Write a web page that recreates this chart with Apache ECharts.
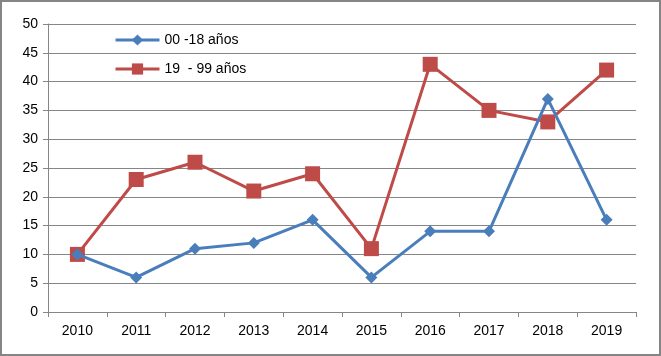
<!DOCTYPE html>
<html><head><meta charset="utf-8">
<script src="https://cdn.jsdelivr.net/npm/echarts@6/dist/echarts.min.js"></script>
<style>html,body{margin:0;padding:0;background:#fff}#c{width:661px;height:356px;box-sizing:border-box;border:2px solid #858585}</style>
</head><body><div id="c"></div>
<script>
const categories = ['2010','2011','2012','2013','2014','2015','2016','2017','2018','2019'];
const series1Name = '00 -18 años';
const series1 = [10, 6, 11, 12, 16, 6, 14, 14, 37, 16];
const series2Name = '19  - 99 años';
const series2 = [10, 23, 26, 21, 24, 11, 43, 35, 33, 42];

const chart = echarts.init(document.getElementById('c'), null, {renderer:'canvas'});
const font = 'Liberation Sans, Arial, sans-serif';
chart.setOption({
  animation:false,
  grid:{left:46, right:23, top:22, bottom:42},
  legend:{
    orient:'vertical', left:107, top:26, itemGap:15, itemWidth:44, itemHeight:14,
    textStyle:{fontFamily:font, fontSize:14, color:'#000'},
    data:[
      {name:series1Name, lineStyle:{width:3}},
      {name:series2Name, lineStyle:{width:3}}
    ]
  },
  xAxis:{
    type:'category', data:categories, boundaryGap:true,
    axisLine:{lineStyle:{color:'#868686', width:1}},
    axisTick:{show:true, length:5, lineStyle:{color:'#868686'}},
    axisLabel:{fontFamily:font, fontSize:14, color:'#000', margin:12}
  },
  yAxis:{
    type:'value', min:0, max:50, interval:5,
    axisLine:{show:true, lineStyle:{color:'#868686'}},
    axisTick:{show:true, length:5, lineStyle:{color:'#868686'}},
    splitLine:{lineStyle:{color:'#868686', width:1}},
    axisLabel:{fontFamily:font, fontSize:14, color:'#000', margin:10}
  },
  series:[
    {name:series1Name, type:'line', data:series1, symbol:'diamond', symbolSize:12,
     lineStyle:{color:'#4A7EBB', width:3}, itemStyle:{color:'#4A7EBB'}, z:3},
    {name:series2Name, type:'line', data:series2, symbol:'rect', symbolSize:15,
     lineStyle:{color:'#BE4B48', width:3}, itemStyle:{color:'#BE4B48'}, z:2}
  ]
});
</script></body></html>
